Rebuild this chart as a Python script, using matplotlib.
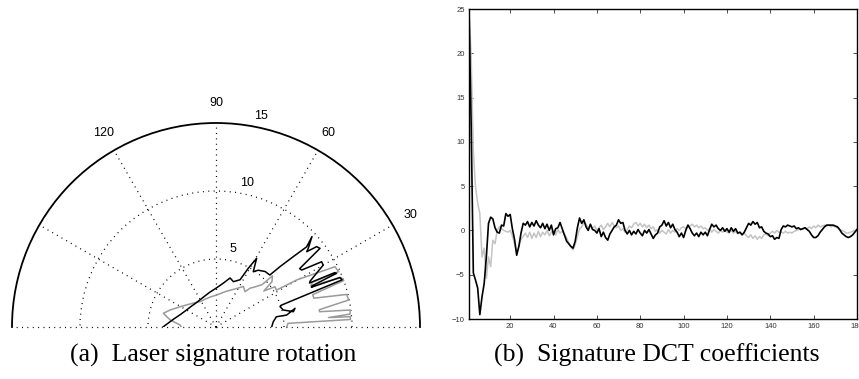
import numpy as np
import matplotlib
matplotlib.use("Agg")
import matplotlib.pyplot as plt

# ---- (a) laser signature, polar (angle in degrees, range) ----
black_theta = [185, 180, 170, 160, 150, 140, 130, 120, 110, 100, 90, 80, 74, 69, 63,
               61.2, 59.4, 56, 53.4, 48.5, 44, 43.3, 42.3, 41.5, 43.3, 40.4, 39.7,
               38.6, 37.1, 34.9, 33.6, 31.7, 30, 26, 25.2, 24.6, 24.0, 23.2, 22.6,
               21.8, 20.5, 18.5, 17.6, 14.2, 11.2, 13.3, 9.6, 9.6, 5.3, 0.3, -5]
black_r = [4.3, 3.9, 3.2, 2.75, 2.5, 2.37, 2.3, 2.32, 2.42, 2.6, 2.85, 3.3, 3.75, 3.57, 3.9,
           4.93, 5.87, 4.9, 5.2, 5.45, 5.5, 6.5, 7.7, 8.9, 9.7, 8.9, 8.67,
           9.47, 9.59, 7.5, 7.57, 9.13, 9.1, 7.7, 7.6, 9.6, 9.7, 7.7, 7.6,
           9.8, 9.9, 5.1, 4.94, 5.1, 5.8, 5.97, 5.27, 4.5, 4.23, 4.1, 4.2]

grey_theta = [185, 180, 176.8, 171.3, 165.4, 159.7, 150, 140, 130, 122, 110, 100, 89,
              75, 62, 56, 50.6, 48.7, 45.9, 42.6, 42.2, 39, 37, 34.3, 31.4, 30.2,
              27.2, 26.9, 24.3, 24.9, 23.5, 21.5, 20, 18.5, 16.4, 14, 11.5, 9.5,
              8.4, 7.2, 5.5, 4.8, 4.4, 3.2, 2.9, 0, -5]
grey_r = [2.5, 2.55, 2.65, 3.4, 4.0, 3.6, 3.0, 2.6, 2.35, 2.2, 2.2, 2.25, 2.35,
          2.7, 3.2, 3.6, 3.36, 3.8, 4.1, 4.6, 5.6, 5.3, 4.4, 5.25, 5.2, 6.9,
          9.4, 9.8, 9.9, 7.8, 7.6, 9.9, 10.0, 7.5, 7.5, 9.9, 9.95, 7.7,
          7.7, 9.95, 9.9, 8.3, 9.9, 9.9, 5.3, 5.2, 5.1]

theta_labels = [30, 60, 90, 120]
r_labels = [5, 10, 15]

# ---- (b) DCT coefficients ----
dct_black = [25.0, 12.0, -4.8, -5.6, -6.5, -9.5, -7.5, -6.0, -3.0, 0.8,
             1.5, 1.3, 0.3, -0.2, -0.3, 0.6, 0.5, 1.9, 1.6, 1.8,
             0.2, -1.0, -2.8, -1.8, -0.3, 0.8, 0.6, 1.0, 0.4, 0.9,
             0.5, 1.1, 0.6, 0.3, 0.8, 0.2, 0.7, 0.0, 0.6, -0.5,
             0.2, 0.3, 0.9, 0.2, -0.5, -1.2, -1.5, -1.8, -2.0, -1.2,
             0.3, 1.4, 0.8, 1.2, 0.4, 0.0, 0.7, 0.1, 0.0, -0.3,
             0.2, -0.7, -0.2, -0.8, -1.1, -0.4, 0.0, 0.4, 0.6, 1.2,
             0.8, 0.9, 0.0, -0.4, 0.0, -0.5, -0.1, -0.4, 0.1, -0.3,
             -0.6, 0.0, -0.3, 0.1, -0.4, -0.9, -0.5, -0.3, 0.4, 0.6,
             1.1, 0.5, 0.9, 0.3, 0.7, 0.1, -0.2, -0.7, -0.3, -0.8,
             0.0, 0.6, 0.2, -0.3, -0.6, -0.3, -0.7, -0.2, -0.5, -0.2,
             -0.6, 0.1, 0.7, 0.4, 0.6, 0.2, 0.0, 0.3, -0.1, 0.2,
             -0.2, 0.3, -0.1, 0.2, -0.3, -0.2, -0.5, -0.2, 0.3, 0.8,
             0.6, 1.0, 0.7, 0.9, 0.3, 0.4, -0.1, -0.3, -0.4, -0.7,
             -0.6, -1.0, -0.8, -0.9, 0.1, 0.5, 0.4, 0.6, 0.5, 0.4,
             0.5, 0.2, 0.3, 0.1, 0.2, 0.3, 0.1, -0.1, -0.5, -0.8,
             -0.8, -0.6, -0.2, 0.1, 0.4, 0.6, 0.6, 0.6, 0.6, 0.5,
             0.4, 0.1, -0.3, -0.5, -0.7, -0.8, -0.7, -0.5, -0.2, 0.1]
dct_grey = [25.0, 19.6, 9.0, 4.9, 3.1, 1.9, -3.0, -2.0, -5.4, -3.0,
            -4.1, -1.1, -1.5, 0.0, 0.4, 0.2, 0.0, -0.1, -0.2, 0.0,
            -0.6, -1.5, -2.5, -1.8, -1.0, -0.7, -0.3, -0.8, -0.2, -0.9,
            -0.3, -0.8, -0.1, -0.7, -0.2, -0.5, 0.0, -0.6, -0.2, 0.0,
            -0.5, 0.1, -0.3, -0.1, -0.4, -0.8, -1.4, -1.9, -2.2, -1.6,
            -0.7, 0.2, 0.4, 0.9, 0.7, 0.3, 0.6, 0.2, 0.5, 0.0,
            0.3, 0.6, 0.1, 0.4, 0.8, 0.4, 0.9, 0.5, 0.3, 0.5,
            0.0, 0.2, -0.2, 0.1, 0.5, 0.3, 0.7, 0.9, 0.5, 0.8,
            0.4, 0.7, 0.3, 0.6, 0.2, 0.4, -0.1, 0.1, -0.3, 0.0,
            -0.2, -0.4, 0.1, -0.3, 0.0, -0.2, 0.2, 0.0, 0.3, 0.4,
            0.2, 0.6, 0.5, 0.7, 0.4, 0.6, 0.3, 0.5, 0.2, 0.3,
            0.0, 0.2, -0.2, 0.1, -0.1, -0.3, 0.0, -0.2, 0.1, -0.2,
            -0.3, 0.0, -0.3, -0.1, -0.4, -0.2, -0.5, -0.3, -0.6, -0.8,
            -0.5, -0.9, -0.6, -1.0, -0.7, -0.9, -0.5, -0.4, -0.6, -0.3,
            -0.1, -0.3, 0.0, -0.2, -0.2, -0.3, -0.1, -0.3, -0.2, -0.3,
            -0.1, 0.0, 0.1, 0.2, 0.1, 0.3, 0.2, 0.4, 0.2, 0.5,
            0.3, 0.6, 0.4, 0.5, 0.6, 0.5, 0.6, 0.4, 0.5, 0.4,
            0.3, 0.1, 0.0, -0.1, -0.3, -0.3, -0.2, -0.1, 0.0, 0.1]
dct_index = np.arange(1, len(dct_black) + 1)

captions = ["(a)  Laser signature rotation", "(b)  Signature DCT coefficients"]

fig = plt.figure(figsize=(8.59, 3.79), dpi=100)
dots = (0, (0.8, 3.5))

# polar half disc: the square box holds the half disc centred vertically
ax = fig.add_axes([12 / 859, -50 / 379, 408 / 859, 408 / 379], projection="polar")
ax.set_thetamin(0)
ax.set_thetamax(180)
ax.set_rlim(0, 15)
ax.set_rticks([5, 10])
ax.set_thetagrids([0, 30, 60, 90, 120, 150, 180])
ax.set_xticklabels([])
ax.set_yticklabels([])
ax.tick_params(length=0)
ax.xaxis.set_visible(True)
ax.grid(True, color="black", linestyle=dots, linewidth=0.9)
for gl in ax.xaxis.get_gridlines():
    gl.set_clip_on(False)
ax.spines["polar"].set_linewidth(1.3)
for k in ["start", "end", "inner"]:
    ax.spines[k].set_visible(False)
    ax.spines[k].set_linewidth(0)
ax.plot(np.radians(grey_theta), grey_r, color="#9a9a9a", lw=1.1)
ax.plot(np.radians(black_theta), black_r, color="black", lw=1.1)
for t in theta_labels:
    ax.text(np.radians(t), 16.5, str(t), ha="center", va="center", fontsize=9,
            family="Liberation Sans")
for r in r_labels:
    ax.text(np.radians(78), r + 0.85, str(r), ha="center", va="center", fontsize=9,
            family="Liberation Sans")

# DCT plot
bx = fig.add_axes([469 / 859, 60 / 379, 388 / 859, 310 / 379])
bx.plot(dct_index, dct_grey, color="#c4c4c4", lw=1.1)
bx.plot(dct_index, dct_black, color="black", lw=1.2)
bx.set_xlim(1, 180)
bx.set_ylim(-10, 25)
bx.set_xticks(range(20, 181, 20))
bx.set_yticks(range(-10, 26, 5))
bx.tick_params(direction="in", length=3, width=0.6, labelsize=5.5, top=True, right=True,
               pad=3, colors="#333333")
for lbl in bx.get_xticklabels() + bx.get_yticklabels():
    lbl.set_family("Liberation Sans")
for s in bx.spines.values():
    s.set_linewidth(1.0)

fig.text(213 / 859, 1 - 355 / 379, captions[0], ha="center", va="center", fontsize=18.5,
         family="Liberation Serif")
fig.text(657 / 859, 1 - 355 / 379, captions[1], ha="center", va="center", fontsize=18.5,
         family="Liberation Serif")

fig.savefig("out.png", dpi=100)
